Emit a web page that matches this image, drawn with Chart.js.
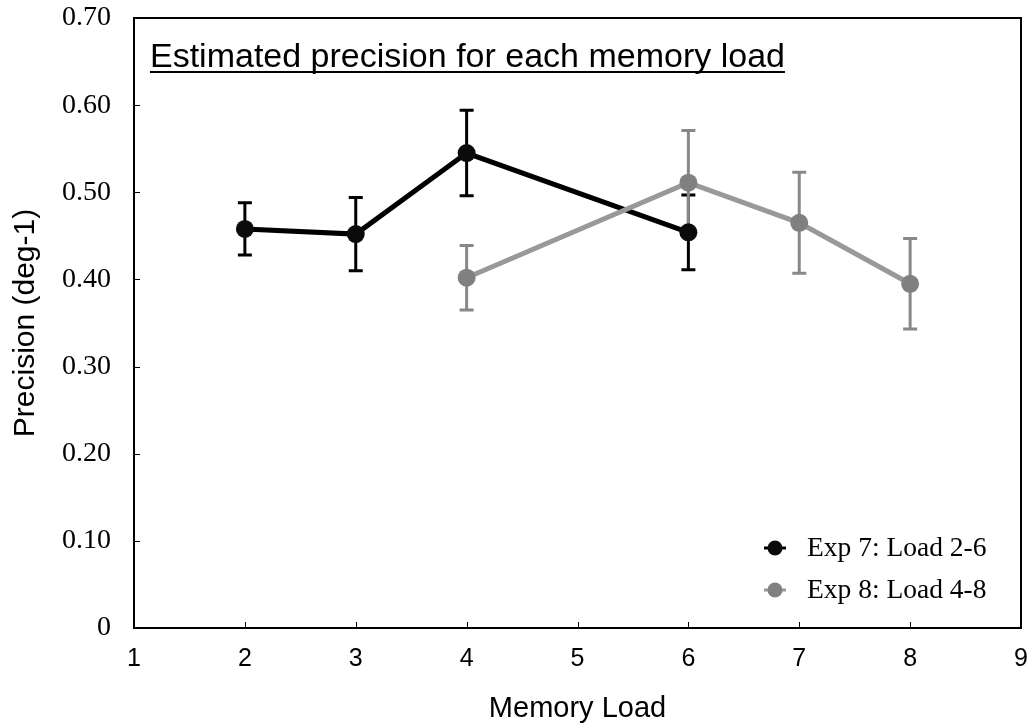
<!DOCTYPE html>
<html>
<head>
<meta charset="utf-8">
<script src="https://cdn.jsdelivr.net/npm/chart.js@4.4.1/dist/chart.umd.min.js"></script>
<style>
  html, body { margin: 0; padding: 0; background: #fff; }
  #wrap { width: 1030px; height: 723px; }
</style>
</head>
<body>
<div id="wrap"><canvas id="chart" width="1030" height="723"></canvas></div>
<script>
// memory load vs. estimated precision, two experiments
const loadsExp7 = [2, 3, 4, 6];
const precisionExp7 = [0.458, 0.452, 0.545, 0.454];
const errorExp7 = [0.030, 0.042, 0.049, 0.043];

const loadsExp8 = [4, 6, 7, 8];
const precisionExp8 = [0.402, 0.511, 0.465, 0.395];
const errorExp8 = [0.037, 0.060, 0.058, 0.052];

const seriesLabels = ['Exp 7: Load 2-6', 'Exp 8: Load 4-8'];
const chartTitle = 'Estimated precision for each memory load';
const xAxisTitle = 'Memory Load';
const yAxisTitle = 'Precision (deg-1)';

const SANS = '"Liberation Sans", Arial, Helvetica, sans-serif';
const SERIF = '"Liberation Serif", "Times New Roman", Times, serif';

function toPoints(xs, ys, errs) {
  return xs.map((x, i) => ({ x: x, y: ys[i], err: errs[i] }));
}

// vertical error bars with caps, drawn under the lines and markers
const errorBars = {
  id: 'errorBars',
  beforeDatasetsDraw(chart) {
    const ctx = chart.ctx;
    const yScale = chart.scales.y;
    chart.data.datasets.forEach((ds, di) => {
      const meta = chart.getDatasetMeta(di);
      ctx.save();
      ctx.strokeStyle = ds.errorColor;
      ctx.lineWidth = 3;
      meta.data.forEach((pt, i) => {
        const d = ds.data[i];
        const top = yScale.getPixelForValue(d.y + d.err);
        const bot = yScale.getPixelForValue(d.y - d.err);
        const cap = 7;
        ctx.beginPath();
        ctx.moveTo(pt.x, top); ctx.lineTo(pt.x, bot);
        ctx.moveTo(pt.x - cap, top); ctx.lineTo(pt.x + cap, top);
        ctx.moveTo(pt.x - cap, bot); ctx.lineTo(pt.x + cap, bot);
        ctx.stroke();
      });
      ctx.restore();
    });
  }
};

// box around the plot, inward tick marks, underlined title and legend
const frame = {
  id: 'frame',
  afterDraw(chart) {
    const ctx = chart.ctx;
    const a = chart.chartArea;
    const xs = chart.scales.x, ys = chart.scales.y;
    ctx.save();
    ctx.strokeStyle = '#000';
    ctx.lineWidth = 2;
    ctx.strokeRect(a.left, a.top, a.right - a.left, a.bottom - a.top);

    ctx.lineWidth = 1;
    ctx.beginPath();
    xs.ticks.forEach(t => {
      const px = Math.round(xs.getPixelForValue(t.value)) + 0.5;
      ctx.moveTo(px, a.bottom); ctx.lineTo(px, a.bottom - 6);
    });
    ys.ticks.forEach(t => {
      const py = Math.round(ys.getPixelForValue(t.value)) + 0.5;
      ctx.moveTo(a.left, py); ctx.lineTo(a.left + 6, py);
    });
    ctx.stroke();

    // title inside the plot, top left
    ctx.font = '34px ' + SANS;
    ctx.fillStyle = '#000';
    ctx.textAlign = 'left';
    ctx.textBaseline = 'alphabetic';
    const tx = a.left + 16, ty = a.top + 49;
    ctx.fillText(chartTitle, tx, ty);
    const tw = ctx.measureText(chartTitle).width;
    ctx.lineWidth = 2;
    ctx.beginPath();
    ctx.moveTo(tx, ty + 5); ctx.lineTo(tx + tw, ty + 5);
    ctx.stroke();

    // legend, bottom right
    ctx.font = '27.5px ' + SERIF;
    ctx.textBaseline = 'middle';
    chart.data.datasets.forEach((ds, i) => {
      const cy = a.bottom - 80 + i * 42;
      const cx = a.right - 246;
      ctx.strokeStyle = ds.borderColor;
      ctx.lineWidth = 3;
      ctx.beginPath();
      ctx.moveTo(cx - 11, cy); ctx.lineTo(cx + 11, cy);
      ctx.stroke();
      ctx.fillStyle = ds.pointBackgroundColor;
      ctx.beginPath();
      ctx.arc(cx, cy, 7.5, 0, Math.PI * 2);
      ctx.fill();
      ctx.fillStyle = '#000';
      ctx.fillText(ds.label, a.right - 214, cy + 1);
    });
    ctx.restore();
  }
};

new Chart(document.getElementById('chart'), {
  type: 'scatter',
  data: {
    datasets: [
      {
        label: seriesLabels[0],
        data: toPoints(loadsExp7, precisionExp7, errorExp7),
        showLine: true,
        borderColor: '#000000',
        borderWidth: 5,
        pointBackgroundColor: '#0b0b0b',
        pointBorderWidth: 0,
        pointRadius: 9,
        errorColor: '#000000',
        order: 1
      },
      {
        label: seriesLabels[1],
        data: toPoints(loadsExp8, precisionExp8, errorExp8),
        showLine: true,
        borderColor: '#999999',
        borderWidth: 5,
        pointBackgroundColor: '#808080',
        pointBorderWidth: 0,
        pointRadius: 9,
        errorColor: '#888888',
        order: 0
      }
    ]
  },
  options: {
    responsive: false,
    animation: false,
    devicePixelRatio: 1,
    layout: { padding: { top: 18, right: 8, left: 0, bottom: 0 } },
    plugins: {
      legend: { display: false },
      tooltip: { enabled: false }
    },
    scales: {
      x: {
        type: 'linear',
        min: 1,
        max: 9,
        ticks: {
          stepSize: 1,
          color: '#000',
          font: { family: SANS, size: 25 },
          padding: 16
        },
        grid: { display: false, drawTicks: false },
        border: { display: false },
        title: {
          display: true,
          text: xAxisTitle,
          color: '#000',
          font: { family: SANS, size: 29, lineHeight: 1 },
          padding: { top: 0, bottom: 0 }
        },
        afterFit(scale) {
          scale.height = 95;
          scale.paddingLeft = 0;
          scale.paddingRight = 0;
        }
      },
      y: {
        min: 0,
        max: 0.7,
        ticks: {
          stepSize: 0.1,
          color: '#000',
          font: { family: SERIF, size: 28 },
          padding: 23,
          callback: v => (v === 0 ? '0' : v.toFixed(2))
        },
        grid: { display: false, drawTicks: false },
        border: { display: false },
        title: {
          display: true,
          text: yAxisTitle,
          color: '#000',
          font: { family: SANS, size: 30 },
          padding: { top: 8, bottom: 0 }
        },
        afterFit(scale) {
          scale.width = 134;
          scale.paddingTop = 0;
          scale.paddingBottom = 0;
        }
      }
    }
  },
  plugins: [errorBars, frame]
});
</script>
</body>
</html>
